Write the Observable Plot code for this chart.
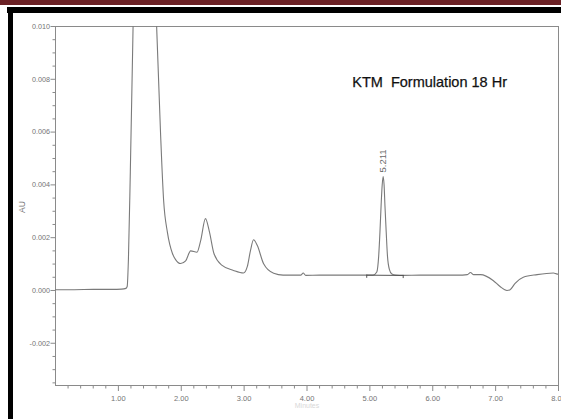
<!DOCTYPE html>
<html>
<head>
<meta charset="utf-8">
<script src="https://cdn.jsdelivr.net/npm/d3@7"></script>
<script src="https://cdn.jsdelivr.net/npm/@observablehq/plot@0.6"></script>
<style>
  html, body { margin: 0; padding: 0; background: #fff; overflow: hidden; }
  #page { position: relative; width: 561px; height: 419px; }
  #chart { position: absolute; left: 0; top: 0; }
  .band { position: absolute; }
</style>
</head>
<body>
<div id="page">
  <div id="chart"></div>
  <div class="band" style="left:0;top:0;width:561px;height:5px;background:#6b2125"></div>
  <div class="band" style="left:7px;top:7px;width:554px;height:6px;background:#000"></div>
  <div class="band" style="left:8px;top:7px;width:5px;height:412px;background:#000"></div>
</div>
<script>
// Retention time (min) and detector response (AU) of the chromatogram trace
const times = [
  0, 0.3, 0.6, 0.9, 1.05, 1.12, 1.14, 1.16, 1.19, 1.23, 1.30, 1.42, 1.52,
  1.61, 1.67, 1.72, 1.78, 1.86, 1.91, 1.99, 2.07, 2.15, 2.25, 2.31, 2.385,
  2.45, 2.52, 2.65, 2.83, 2.99, 3.05, 3.10, 3.15, 3.21, 3.31, 3.47, 3.62,
  3.80, 3.90, 3.94, 3.98, 4.20, 4.50, 4.80, 4.95, 5.05, 5.11, 5.14, 5.16,
  5.18, 5.196, 5.211, 5.226, 5.24, 5.26, 5.28, 5.31, 5.35, 5.41, 5.53, 5.80,
  6.10, 6.40, 6.55, 6.60, 6.65, 6.76, 6.96, 7.07, 7.18, 7.23, 7.31, 7.44,
  7.66, 7.92, 7.98, 8.00
];
const absorbance = [
  0.00003, 0.00003, 0.00004, 0.00004, 0.00005, 0.00008, 0.00015, 0.0012, 0.0045, 0.0095, 0.018, 0.022, 0.017,
  0.0099, 0.0060, 0.0034, 0.0022, 0.0014, 0.00117, 0.00102, 0.00112, 0.00150, 0.00145, 0.00190, 0.00272,
  0.00220, 0.00140, 0.00095, 0.00076, 0.00066, 0.00090, 0.00150, 0.00192, 0.00170, 0.00101, 0.00065, 0.00058,
  0.00058, 0.00058, 0.00066, 0.00057, 0.00058, 0.00058, 0.00058, 0.00058, 0.00058, 0.00070, 0.00130, 0.00220,
  0.00330, 0.00400, 0.00432, 0.00400, 0.00320, 0.00220, 0.00130, 0.00080, 0.00062, 0.00058, 0.00057, 0.00058,
  0.00058, 0.00058, 0.00060, 0.00068, 0.00060, 0.00060, 0.00038, 0.00015, 0.00000, 0.00003, 0.00027, 0.00050,
  0.00060, 0.00066, 0.00062, 0.00062
];

// Integrated peak: retention time, and integration start / end
const peakTimes = [5.211];
const integrationTimes = [4.95, 5.53];

// Axis ticks
const xTicks = [1, 2, 3, 4, 5, 6, 7, 8];
const yTicks = [-0.002, 0, 0.002, 0.004, 0.006, 0.008, 0.010];

const title = "KTM  Formulation 18 Hr";
const yLabel = "AU";
const xLabel = "Minutes";

const trace = times.map((t, i) => ({time: t, au: absorbance[i]}));
const valueAt = t => trace.find(d => d.time === t).au;
const peaks = peakTimes.map(t => ({time: t, au: valueAt(t)}));
const integration = integrationTimes.map(t => ({time: t, au: valueAt(t)}));

const xMinor = d3.range(0.2, 8, 0.2).filter(v => Math.abs(v - Math.round(v)) > 1e-6);
const yMinor = d3.range(-0.0035, 0.0101, 0.0005).filter(v => Math.abs(v / 0.002 - Math.round(v / 0.002)) > 1e-6);

const axisColor = "#8a8a8a";
const font = "'Liberation Sans', Arial, sans-serif";

const chart = Plot.plot({
  width: 561,
  height: 419,
  marginLeft: 55,
  marginRight: 3,
  marginTop: 26,
  marginBottom: 34,
  style: {fontFamily: font, fontSize: "7px", color: "#747474", background: "transparent", overflow: "visible"},
  x: {domain: [0, 8]},
  y: {domain: [-0.0036, 0.010]},
  marks: [
    Plot.axisY(yMinor, {tickSize: 2.5, text: null, stroke: axisColor, label: null}),
    Plot.axisY(yTicks, {tickSize: 4.5, tickPadding: 1, tickFormat: d => d.toFixed(3), stroke: axisColor, label: null, fontSize: 7.2}),
    Plot.axisX(xMinor, {tickSize: 3.5, text: null, stroke: axisColor, label: null}),
    Plot.axisX(xTicks, {tickSize: 6, tickPadding: 4, tickFormat: d => d.toFixed(2), stroke: axisColor, label: null, fontSize: 7.5}),
    Plot.frame({stroke: axisColor}),
    Plot.line(trace, {x: "time", y: "au", stroke: "#7a7a7a", strokeWidth: 1.1, curve: "monotone-x", clip: true}),
    Plot.line(integration, {x: "time", y: "au", stroke: "#555", strokeWidth: 1}),
    Plot.ruleX(integration, {x: "time", y1: d => d.au - 0.00012, y2: "au", stroke: "#555", strokeWidth: 1}),
    Plot.text(peaks, {x: "time", y: "au", text: d => d.time.toFixed(3), rotate: -90, textAnchor: "start", dy: -4, fontSize: 9.5, fill: "#6a6a6a"}),
    Plot.text([title], {x: 4.72, y: 0.0079, text: d => d, textAnchor: "start", fontSize: 14.5, fill: "#111", stroke: "#111", strokeWidth: 0.25}),
    Plot.text([yLabel], {frameAnchor: "left", dx: -33, dy: 7, rotate: -90, text: d => d, fontSize: 8.5, fill: "#777"}),
    Plot.text([xLabel], {frameAnchor: "bottom", dx: 0, dy: 22, text: d => d, fontSize: 7, fill: "#d8d8d8"})
  ]
});

document.getElementById("chart").appendChild(chart);
</script>
</body>
</html>
